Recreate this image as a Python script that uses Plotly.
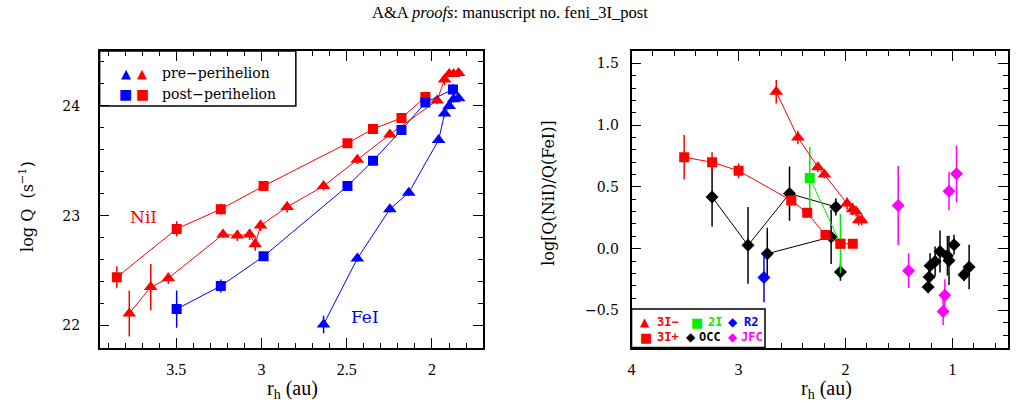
import plotly.graph_objects as go

# ---------------- data (left panel: log Q vs r_h) ----------------
ni_post_r = [3.849, 3.498, 3.239, 2.988, 2.496, 2.346, 2.179, 2.039]
ni_post_q = [22.44, 22.88, 23.06, 23.27, 23.66, 23.79, 23.89, 24.08]
ni_post_e = [0.10, 0.07, 0.05, 0.04, 0.03, 0.03, 0.03, 0.05]

ni_pre_r = [3.776, 3.650, 3.547, 3.226, 3.142, 3.070, 3.037, 3.006, 2.850,
            2.636, 2.438, 2.247, 1.970, 1.926, 1.899, 1.873, 1.844]
ni_pre_q = [22.11, 22.35, 22.43, 22.83, 22.82, 22.83, 22.74, 22.91, 23.08,
            23.27, 23.51, 23.74, 24.05, 24.24, 24.29, 24.29, 24.30]
ni_pre_e = [0.21, 0.21, 0.05, 0.03, 0.05, 0.05, 0.06, 0.05, 0.05,
            0.04, 0.04, 0.03, 0.03, 0.05, 0.03, 0.03, 0.03]

fe_post_r = [3.498, 3.239, 2.988, 2.496, 2.346, 2.179, 2.039, 1.877]
fe_post_q = [22.15, 22.36, 22.63, 23.27, 23.50, 23.78, 24.03, 24.15]
fe_post_e = [0.17, 0.06, 0.03, 0.03, 0.03, 0.03, 0.03, 0.05]

fe_pre_r = [2.636, 2.438, 2.247, 2.136, 1.961, 1.926, 1.899, 1.873, 1.844]
fe_pre_q = [22.01, 22.61, 23.06, 23.21, 23.69, 23.93, 24.00, 24.06, 24.07]
fe_pre_e = [0.08, 0.03, 0.03, 0.03, 0.03, 0.03, 0.03, 0.03, 0.03]

# ---------------- data (right panel: log ratio vs r_h) ----------------
i3m_r = [2.647, 2.445, 2.258, 2.197, 1.985, 1.932, 1.901, 1.876, 1.848]
i3m_v = [1.27, 0.90, 0.66, 0.60, 0.365, 0.32, 0.30, 0.23, 0.23]
i3m_e = [0.095, 0.055, 0.04, 0.03, 0.05, 0.05, 0.04, 0.04, 0.04]

i3p_r = [3.508, 3.247, 2.999, 2.507, 2.358, 2.187, 2.047, 1.932]
i3p_v = [0.74, 0.70, 0.63, 0.39, 0.29, 0.11, 0.04, 0.04]
i3p_e = [0.18, 0.08, 0.06, 0.04, 0.04, 0.03, 0.03, 0.03]

i2_r = [2.334, 2.047]
i2_v = [0.573, 0.04]
i2_e = [0.25, 0.24]

occa_r = [3.247, 2.911, 2.523, 2.090]
occa_v = [0.419, 0.027, 0.446, 0.338]
occa_e = [0.24, 0.31, 0.22, 0.07]

occb_r = [2.731, 2.134]
occb_v = [-0.041, 0.095]
occb_e = [0.21, 0.22]

occs_r = [2.047, 1.227, 1.218, 1.209, 1.162, 1.116, 1.047, 1.032, 0.985, 0.892, 0.844]
occs_v = [-0.189, -0.311, -0.23, -0.138, -0.103, -0.022, -0.057, -0.095, 0.032, -0.211, -0.149]
occs_e = [0.07, 0.05, 0.08, 0.10, 0.12, 0.17, 0.16, 0.20, 0.08, 0.05, 0.18]

jfc_r = [1.507, 1.410, 1.087, 1.071, 1.032, 0.962]
jfc_v = [0.349, -0.178, -0.508, -0.378, 0.465, 0.606]
jfc_e = [0.32, 0.14, 0.11, 0.13, 0.155, 0.23]

r2_r = [2.762]
r2_v = [-0.233]
r2_e = [0.20]

RED, BLUE, GREEN, MAG, BLACK = "#ff0000", "#0000ff", "#00ee00", "#ff00ff", "#000000"
W, H = 1022, 411


def px(x):
    return x / W


def py(y):
    return 1 - y / H


fig = go.Figure()


def add(x, y, e, color, symbol, size, mode="lines+markers", xa="x", ya="y"):
    fig.add_trace(go.Scatter(
        x=x, y=y, mode=mode, xaxis=xa, yaxis=ya, showlegend=False,
        line=dict(color=color, width=1),
        marker=dict(symbol=symbol, size=size, color=color, line=dict(width=0)),
        error_y=dict(type="data", array=e, visible=True, color=color, thickness=1.5, width=0),
    ))


# left panel
add(ni_post_r, ni_post_q, ni_post_e, RED, "square", 10)
add(ni_pre_r, ni_pre_q, ni_pre_e, RED, "triangle-up", 12)
add(fe_post_r, fe_post_q, fe_post_e, BLUE, "square", 10)
add(fe_pre_r, fe_pre_q, fe_pre_e, BLUE, "triangle-up", 12)

# right panel
add(occa_r, occa_v, occa_e, BLACK, "diamond", 10, xa="x2", ya="y2")
add(occb_r, occb_v, occb_e, BLACK, "diamond", 10, xa="x2", ya="y2")
add(occs_r, occs_v, occs_e, BLACK, "diamond", 10, mode="markers", xa="x2", ya="y2")
add(jfc_r, jfc_v, jfc_e, MAG, "diamond", 10, mode="markers", xa="x2", ya="y2")
add(r2_r, r2_v, r2_e, BLUE, "diamond", 10, mode="markers", xa="x2", ya="y2")
add(i2_r, i2_v, i2_e, GREEN, "square", 10, xa="x2", ya="y2")
add(i3p_r, i3p_v, i3p_e, RED, "square", 10, xa="x2", ya="y2")
add(i3m_r, i3m_v, i3m_e, RED, "triangle-up", 12, xa="x2", ya="y2")

axis_common = dict(
    showline=True, linecolor="black", linewidth=1.5, mirror="allticks",
    ticks="inside", ticklen=10, tickwidth=1.2, tickcolor="black",
    showgrid=False, zeroline=False,
)
xfont = dict(family="Liberation Serif", size=16, color="black")
yfont = dict(family="DejaVu Serif", size=14, color="black")

y_dom = [py(347.5), py(51)]

fig.update_layout(
    width=W, height=H,
    margin=dict(l=0, r=0, t=0, b=0),
    paper_bgcolor="white", plot_bgcolor="white",
    xaxis=dict(domain=[px(96), px(481)], range=[3.95, 1.70], anchor="y",
               tickvals=[3.5, 3, 2.5, 2], ticktext=["3.5", "3", "2.5", "2"],
               tickfont=xfont, ticklabelstandoff=7,
               minor=dict(tick0=0, dtick=0.1, ticks="inside", ticklen=5, tickcolor="black", tickwidth=1),
               **axis_common),
    yaxis=dict(domain=y_dom, range=[21.8, 24.5], anchor="x",
               tickvals=[22, 23, 24], ticktext=["22", "23", "24"],
               tickfont=yfont, ticklabelstandoff=15,
               minor=dict(tick0=0, dtick=0.2, ticks="inside", ticklen=5, tickcolor="black", tickwidth=1),
               **axis_common),
    xaxis2=dict(domain=[px(630), px(1008)], range=[4.0, 0.48], anchor="y2",
                tickvals=[4, 3, 2, 1], ticktext=["4", "3", "2", "1"],
                tickfont=xfont, ticklabelstandoff=7,
                minor=dict(tick0=0, dtick=0.2, ticks="inside", ticklen=5, tickcolor="black", tickwidth=1),
                **axis_common),
    yaxis2=dict(domain=y_dom, range=[-0.8, 1.6], anchor="x2",
                tickvals=[-0.5, 0, 0.5, 1.0, 1.5], ticktext=["\u22120.5", "0.0", "0.5", "1.0", "1.5"],
                tickfont=yfont, ticklabelstandoff=8,
                minor=dict(tick0=0, dtick=0.1, ticks="inside", ticklen=5, tickcolor="black", tickwidth=1),
                **axis_common),
)

ann = []


def text(x, y, t, size=14, family="DejaVu Serif", color="black", xanchor="center", angle=0):
    ann.append(dict(x=px(x), y=py(y), xref="paper", yref="paper", text=t, showarrow=False,
                    xanchor=xanchor, yanchor="middle", textangle=angle,
                    font=dict(family=family, size=size, color=color)))


# page header
text(508, 13, "A&amp;A <i>proofs</i>: manuscript no. feni_3I_post", size=16.5, family="Liberation Serif")

# axis titles
text(22, 206, "log Q  (s<sup>\u22121</sup>)", size=16, angle=-90)
text(546, 193, "log[Q(NiI)/Q(FeI)]", size=16, angle=-90)
text(290, 389, "r<sub>h</sub> (au)", size=20, family="Liberation Serif")
text(826, 389, "r<sub>h</sub> (au)", size=20, family="Liberation Serif")

# species labels
text(140, 217, "NiI", size=17, color=RED)
text(362, 317, "FeI", size=17, color=BLUE)

# legends
shapes = [
    dict(type="rect", xref="paper", yref="paper", x0=px(96), x1=px(293), y0=py(106), y1=py(51),
         line=dict(color="black", width=1.5), fillcolor="rgba(255,255,255,0)"),
    dict(type="rect", xref="paper", yref="paper", x0=px(630), x1=px(764), y0=py(347.5), y1=py(309),
         line=dict(color="black", width=1.5), fillcolor="white", layer="above"),
]
text(122, 73, "\u25b2", size=13, family="DejaVu Sans", color=BLUE)
text(139, 73, "\u25b2", size=13, family="DejaVu Sans", color=RED)
text(157, 73, "pre\u2212perihelion", size=14, xanchor="left")
text(122, 94, "\u25a0", size=14, family="DejaVu Sans", color=BLUE)
text(139, 94, "\u25a0", size=14, family="DejaVu Sans", color=RED)
text(157, 94, "post\u2212perihelion", size=14, xanchor="left")

lf = "DejaVu Sans Mono"
text(644, 322, "\u25b2", size=12, family="DejaVu Sans", color=RED)
text(654, 322, "<b>3I\u2212</b>", size=12, family=lf, color=RED, xanchor="left")
text(696, 322, "\u25a0", size=13, family="DejaVu Sans", color=GREEN)
text(705, 322, "<b>2I</b>", size=12, family=lf, color=GREEN, xanchor="left")
text(732, 322, "\u25c6", size=12, family="DejaVu Sans", color=BLUE)
text(741, 322, "<b>R2</b>", size=12, family=lf, color=BLUE, xanchor="left")
text(645, 337, "\u25a0", size=13, family="DejaVu Sans", color=RED)
text(654, 337, "<b>3I+</b>", size=12, family=lf, color=RED, xanchor="left")
text(690, 337, "\u25c6", size=12, family="DejaVu Sans", color=BLACK)
text(696, 337, "<b>OCC</b>", size=12, family=lf, color=BLACK, xanchor="left")
text(732, 337, "\u25c6", size=12, family="DejaVu Sans", color=MAG)
text(738, 337, "<b>JFC</b>", size=12, family=lf, color=MAG, xanchor="left")

fig.update_layout(annotations=ann, shapes=shapes)
fig.write_html("out.html")
